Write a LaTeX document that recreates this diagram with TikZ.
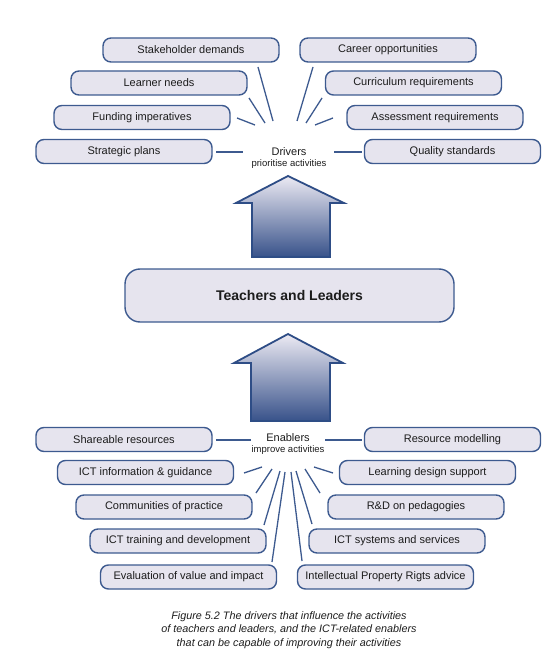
\documentclass[tikz,border=0pt]{standalone}
\usepackage{fontspec}
\setmainfont{Liberation Sans}
\usetikzlibrary{calc}
\definecolor{boxfill}{HTML}{E6E4EE}
\definecolor{edgeblue}{HTML}{3D5A8F}
\definecolor{arrowtop}{HTML}{ECEAF3}
\definecolor{arrowbot}{HTML}{38528A}
\definecolor{arrowedge}{HTML}{2E4D86}
\definecolor{ink}{HTML}{1C1C1C}
\tikzset{
  item/.style={draw=edgeblue, line width=1.4pt, fill=boxfill, rounded corners=8pt,
    minimum width=176pt, minimum height=24pt, inner sep=0pt, text=ink,
    font=\fontsize{11}{13}\selectfont},
  central/.style={draw=edgeblue, line width=1.4pt, fill=boxfill, rounded corners=15pt,
    minimum width=329pt, minimum height=53pt, inner sep=0pt, text=ink,
    font=\fontsize{14}{16}\selectfont\bfseries},
  hubtitle/.style={text=ink, inner sep=0pt, font=\fontsize{11}{13}\selectfont},
  hubsub/.style={text=ink, inner sep=0pt, font=\fontsize{9.5}{11}\selectfont},
  link/.style={draw=edgeblue, line width=1.3pt},
  bigarrow/.style={draw=arrowedge, line width=1.8pt, line join=miter,
    top color=arrowtop, bottom color=arrowbot},
  caption/.style={text=ink, align=center, inner sep=0pt,
    font=\fontsize{10.8}{13.5}\selectfont\itshape}
}
\begin{document}
\begin{tikzpicture}[x=1pt, y=-1pt]
\useasboundingbox (0,0) rectangle (558,655);

% drivers
\node[item] (sd)  at (191,50)    {Stakeholder demands};
\node[item] (ln)  at (159,83)    {Learner needs};
\node[item] (fi)  at (142,117.5) {Funding imperatives};
\node[item] (sp)  at (124,151.5) {Strategic plans};
\node[item] (co)  at (388,50)    {Career opportunities};
\node[item] (cr)  at (413.5,83)  {Curriculum requirements};
\node[item] (ar)  at (435,117.5) {Assessment requirements};
\node[item] (qs)  at (452.5,151.5) {Quality standards};
\node[hubtitle] (drv)  at (289,152) {Drivers};
\node[hubsub]   (drvs) at (289,164) {prioritise activities};

% upward arrows
\path[bigarrow] (288,176) -- (344,203) -- (330,203) -- (330,257) -- (252,257)
  -- (252,203) -- (236,203) -- cycle;
\path[bigarrow] (288,334) -- (343,363) -- (330,363) -- (330,421) -- (251,421)
  -- (251,363) -- (234,363) -- cycle;

% centre
\node[central] (tl) at (289.5,295.5) {Teachers and Leaders};

% enablers
\node[item] (shr) at (124,439.5)   {Shareable resources};
\node[item] (ict) at (145.5,472.5) {ICT information \& guidance};
\node[item] (cop) at (164,507)     {Communities of practice};
\node[item] (itd) at (178,541)     {ICT training and development};
\node[item] (evi) at (188.5,577)   {Evaluation of value and impact};
\node[item] (rm)  at (452.5,439.5) {Resource modelling};
\node[item] (lds) at (427.5,472.5) {Learning design support};
\node[item] (rd)  at (416,507)     {R\&D on pedagogies};
\node[item] (iss) at (397,541)     {ICT systems and services};
\node[item] (ipr) at (385.5,577)   {Intellectual Property Rigts advice};
\node[hubtitle] (enb)  at (288,438) {Enablers};
\node[hubsub]   (enbs) at (288,450) {improve activities};

% spokes
\foreach \n/\ax/\ay/\bx/\by in {
  d1/258/67/273/121, d2/249/98/265/123, d3/237/118/255/125, d4/216/152/243/152,
  d5/313/67/297/121, d6/322/98/306/123, d7/333/118/315/125, d8/334/152/362/152,
  e1/216/440/251/440, e2/244/473/262/467, e3/256/493/272/469, e4/264/525/280/471,
  e5/272/562/285/472, e6/325/440/362/440, e7/314/467/333/473, e8/305/469/320/493,
  e9/296/471/312/524, e10/291/472/302/561}{
  \coordinate (\n a) at (\ax,\ay);
  \coordinate (\n b) at (\bx,\by);
  \draw[link] (\n a) -- (\n b);
}

\node[caption] (cap) at (289,630) {Figure 5.2 The drivers that influence the activities\\
of teachers and leaders, and the ICT-related enablers\\
that can be capable of improving their activities};
\end{tikzpicture}
\end{document}
